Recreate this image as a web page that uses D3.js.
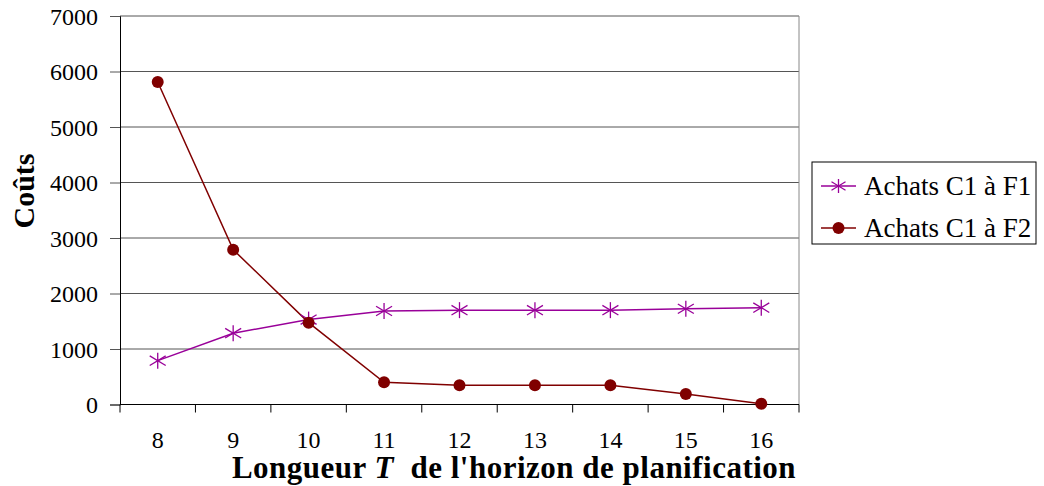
<!DOCTYPE html>
<html lang="fr">
<head>
<meta charset="UTF-8">
<title>Coûts</title>
<script src="https://d3js.org/d3.v7.min.js"></script>
<style>
  body { margin: 0; background: #fff; }
  svg text { font-family: "Liberation Serif", "Times New Roman", serif; fill: #000; }
</style>
</head>
<body>
<svg id="chart" width="1044" height="486"></svg>
<script>
const periods = [8, 9, 10, 11, 12, 13, 14, 15, 16];
const achatsF1 = [790, 1285, 1530, 1685, 1700, 1700, 1700, 1725, 1745];
const achatsF2 = [5810, 2790, 1475, 400, 345, 345, 345, 190, 15];
const yTicks = [0, 1000, 2000, 3000, 4000, 5000, 6000, 7000];
const seriesNames = ["Achats C1 à F1", "Achats C1 à F2"];

const svg = d3.select('#chart');
const plotLeft = 120, plotRight = 799, plotTop = 16, plotBottom = 404.5;
const serif = '"Liberation Serif", "Times New Roman", serif';

const x = d3.scaleBand().domain(periods).range([plotLeft, plotRight]);
const y = d3.scaleLinear().domain([0, 7000]).range([plotBottom, plotTop]);

// grid lines
svg.append('g')
  .selectAll('line')
  .data(yTicks.slice(1))
  .join('line')
  .attr('x1', plotLeft).attr('x2', plotRight)
  .attr('y1', d => y(d)).attr('y2', d => y(d))
  .attr('stroke', '#555').attr('stroke-width', 1);

// right border
svg.append('line')
  .attr('x1', plotRight).attr('x2', plotRight).attr('y1', plotTop).attr('y2', plotBottom)
  .attr('stroke', '#888');

// y axis
const yAxis = svg.append('g')
  .attr('transform', `translate(${plotLeft},0)`)
  .call(d3.axisLeft(y).tickValues(yTicks).tickSize(10).tickPadding(12).tickFormat(d3.format('d')));
yAxis.attr('font-family', serif).attr('font-size', 24);
yAxis.select('.domain').attr('stroke', '#000');
yAxis.selectAll('.tick line').attr('stroke', '#555');
yAxis.selectAll('text').attr('fill', '#000').attr('dy', '0.35em');

// x axis: ticks on band edges
const xAxisG = svg.append('g').attr('transform', `translate(0,${plotBottom})`);
xAxisG.append('line').attr('x1', plotLeft).attr('x2', plotRight).attr('stroke', '#000');
const edges = periods.map(p => x(p)).concat([plotRight]);
xAxisG.selectAll('line.tk').data(edges).join('line')
  .attr('class', 'tk')
  .attr('x1', d => d).attr('x2', d => d).attr('y1', 0).attr('y2', 8)
  .attr('stroke', '#000');
xAxisG.selectAll('text').data(periods).join('text')
  .attr('x', d => x(d) + x.bandwidth() / 2)
  .attr('y', 43)
  .attr('text-anchor', 'middle')
  .attr('font-size', 24)
  .text(d => d);

// lines
const cx = (d, i) => x(periods[i]) + x.bandwidth() / 2;
const line = d3.line().x(cx).y(d => y(d));

svg.append('path').datum(achatsF1)
  .attr('d', line).attr('fill', 'none').attr('stroke', '#990099').attr('stroke-width', 1.5);
svg.append('path').datum(achatsF2)
  .attr('d', line).attr('fill', 'none').attr('stroke', '#800000').attr('stroke-width', 1.5);

function star(g, px, py, s) {
  const arms = [[0, -s, 0, s], [-s, -s * 0.6, s, s * 0.6], [-s, s * 0.6, s, -s * 0.6]];
  arms.forEach(a => g.append('line')
    .attr('x1', px + a[0]).attr('y1', py + a[1]).attr('x2', px + a[2]).attr('y2', py + a[3])
    .attr('stroke', '#990099').attr('stroke-width', 1.3));
}

const starG = svg.append('g');
achatsF1.forEach((d, i) => star(starG, cx(d, i), y(d), 8));

svg.append('g').selectAll('circle').data(achatsF2).join('circle')
  .attr('cx', cx).attr('cy', d => y(d)).attr('r', 6)
  .attr('fill', '#800000');

// y title
svg.append('text')
  .attr('transform', 'translate(34,191) rotate(-90)')
  .attr('text-anchor', 'middle')
  .attr('font-size', 30).attr('font-weight', 'bold')
  .text('Coûts');

// x title
const xt = svg.append('text')
  .attr('x', 514).attr('y', 478)
  .attr('text-anchor', 'middle')
  .attr('font-size', 31).attr('font-weight', 'bold')
  .attr('letter-spacing', 0.5)
  .attr('xml:space', 'preserve');
xt.append('tspan').text('Longueur ');
xt.append('tspan').attr('font-style', 'italic').text('T');
xt.append('tspan').text('  de l\'horizon de planification');

// legend
const lg = svg.append('g');
lg.append('rect').attr('x', 812).attr('y', 162).attr('width', 224).attr('height', 82)
  .attr('fill', '#fff').attr('stroke', '#000').attr('stroke-width', 1);
const lgY = [186, 228];
lg.append('line').attr('x1', 821).attr('x2', 856).attr('y1', lgY[0]).attr('y2', lgY[0])
  .attr('stroke', '#990099').attr('stroke-width', 1.5);
star(lg, 838.5, lgY[0], 7);
lg.append('line').attr('x1', 821).attr('x2', 856).attr('y1', lgY[1]).attr('y2', lgY[1])
  .attr('stroke', '#800000').attr('stroke-width', 1.5);
lg.append('circle').attr('cx', 838.5).attr('cy', lgY[1]).attr('r', 6).attr('fill', '#800000');
lg.selectAll('text.name').data(seriesNames).join('text')
  .attr('class', 'name')
  .attr('x', 864).attr('y', (d, i) => lgY[i] + 9)
  .attr('font-size', 27)
  .text(d => d);
</script>
</body>
</html>
